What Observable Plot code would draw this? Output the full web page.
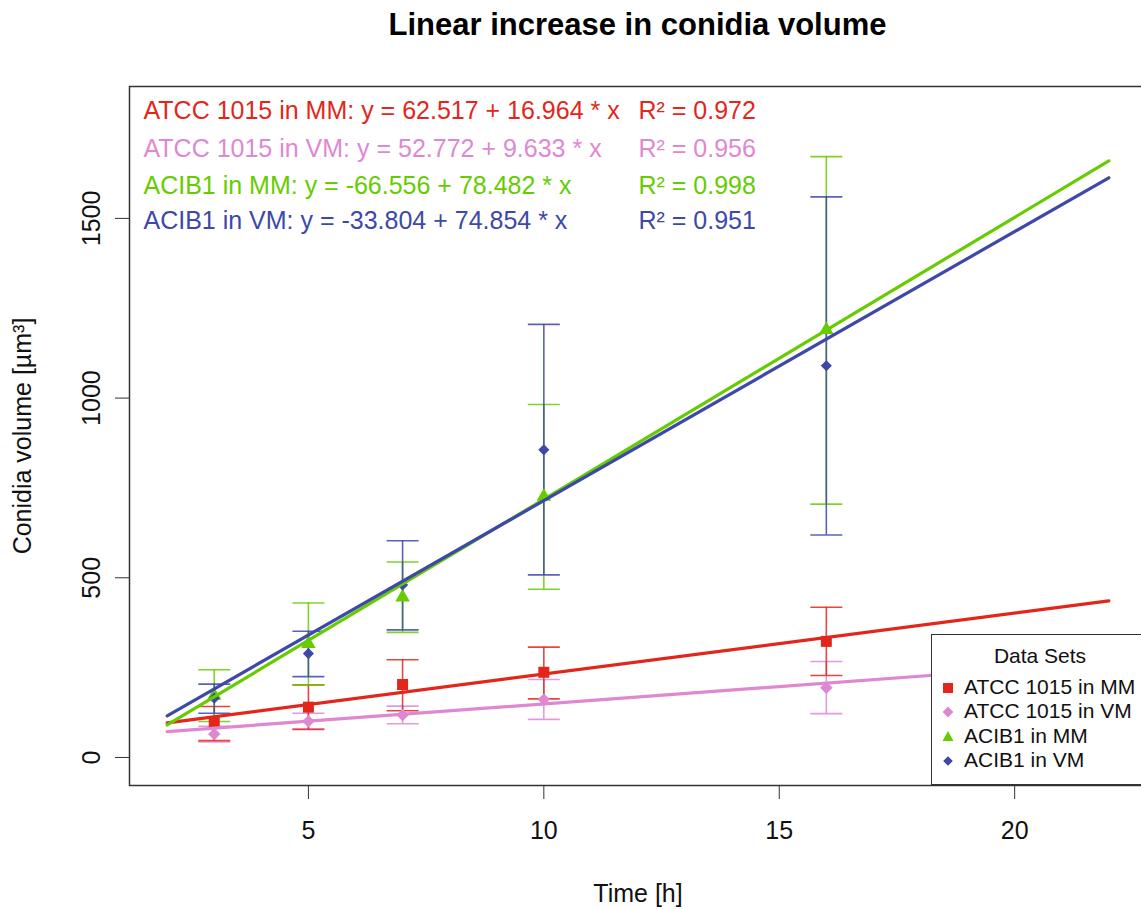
<!DOCTYPE html>
<html><head><meta charset="utf-8">
<script src="https://cdn.jsdelivr.net/npm/d3@7"></script>
<script src="https://cdn.jsdelivr.net/npm/@observablehq/plot@0.6"></script>
<style>
html,body{margin:0;padding:0;background:#fff;overflow:hidden;}
#wrap{position:relative;width:1141px;height:909px;overflow:hidden;font-family:"Liberation Sans",Arial,sans-serif;}
#title{position:absolute;left:129px;width:1017px;top:0;height:50px;line-height:50px;text-align:center;font-weight:bold;font-size:31px;color:#000;}
#chart{position:absolute;left:0;top:50px;}
#chart svg{max-width:none;overflow:hidden;}
#legend{position:absolute;left:931px;top:634px;width:240px;height:149px;border:1.5px solid #333;background:#fff;color:#111;font-size:21px;}
#legend .ttl{position:absolute;left:0;width:216px;top:9px;text-align:center;}
#legend .row{position:absolute;left:8px;height:24px;line-height:24px;white-space:nowrap;}
#legend .row svg{vertical-align:middle;margin-right:8px;}
</style></head>
<body><div id="wrap"><div id="title">Linear increase in conidia volume</div><div id="chart"></div><div id="legend"></div></div>
<script>
// ---- data ----
const times = [3, 5, 7, 10, 16];
const seriesNames = ["ATCC 1015 in MM", "ATCC 1015 in VM", "ACIB1 in MM", "ACIB1 in VM"];
const seriesColors = ["#E3261C", "#DF88D2", "#66CC00", "#3D48A8"];
const seriesSymbols = ["square", "diamond2", "triangle", "diamond2"];

const atccMM_mean = [98, 140, 203, 237, 323];
const atccMM_lo   = [47, 78, 130, 163, 228];
const atccMM_hi   = [142, 202, 272, 307, 418];

const atccVM_mean = [65, 101, 118, 161, 194];
const atccVM_lo   = [43, 80, 94, 106, 122];
const atccVM_hi   = [87, 123, 143, 217, 267];

const acibMM_mean = [172, 316, 446, 726, 1190];
const acibMM_lo   = [100, 202, 348, 468, 705];
const acibMM_hi   = [244, 430, 544, 982, 1672];

const acibVM_mean = [165, 289, 480, 856, 1090];
const acibVM_lo   = [123, 225, 355, 508, 619];
const acibVM_hi   = [204, 351, 603, 1205, 1560];

// regression lines (endpoints at the start and end of the fitted range)
const lineX = [2, 22];
const atccMM_line = [96.4, 435.7];
const atccVM_line = [72.0, 264.7];
const acibMM_line = [90.4, 1660.0];
const acibVM_line = [115.9, 1613.0];

const eqIntercept = ["62.517", "52.772", "-66.556", "-33.804"];
const eqSlope = ["16.964", "9.633", "78.482", "74.854"];
const eqR2 = ["0.972", "0.956", "0.998", "0.951"];

const xTicks = [5, 10, 15, 20];
const yTicks = [0, 500, 1000, 1500];
const xDomain = [1.2, 22.8];
const yDomain = [-78, 1867];

const xLabel = "Time [h]";
const yLabel = "Conidia volume [µm³]";
const legendTitle = "Data Sets";

// ---- build tables ----
const means = [atccMM_mean, atccVM_mean, acibMM_mean, acibVM_mean];
const los = [atccMM_lo, atccVM_lo, acibMM_lo, acibVM_lo];
const his = [atccMM_hi, atccVM_hi, acibMM_hi, acibVM_hi];
const lines = [atccMM_line, atccVM_line, acibMM_line, acibVM_line];

const pts = seriesNames.map((s, k) => times.map((t, i) => ({series: s, x: t, y: means[k][i], lo: los[k][i], hi: his[k][i]})));
const lns = seriesNames.map((s, k) => lineX.map((x, i) => ({series: s, x, y: lines[k][i]})));

const capSymbol = {draw(ctx, size) { const w = Math.sqrt(size) / 2; ctx.moveTo(-w, 0); ctx.lineTo(w, 0); }};
const capR = 32 / Math.sqrt(Math.PI);
const dotR = [6.2, 5.6, 5.4, 5.0];

// draw order: pink, red, green, blue
const order = [1, 0, 2, 3];
const marks = [];
for (const k of order) {
  const c = seriesColors[k];
  marks.push(Plot.ruleX(pts[k], {x: "x", y1: "lo", y2: "hi", stroke: c, strokeWidth: 1.6, strokeOpacity: 0.85}));
  marks.push(Plot.dot(pts[k], {x: "x", y: "lo", symbol: capSymbol, r: capR, stroke: c, fill: "none", strokeWidth: 1.6, strokeOpacity: 0.85}));
  marks.push(Plot.dot(pts[k], {x: "x", y: "hi", symbol: capSymbol, r: capR, stroke: c, fill: "none", strokeWidth: 1.6, strokeOpacity: 0.85}));
}
for (const k of order) {
  marks.push(Plot.dot(pts[k], {x: "x", y: "y", symbol: seriesSymbols[k], r: dotR[k], fill: seriesColors[k], stroke: "none"}));
}
for (const k of [1, 0, 2, 3]) {
  marks.push(Plot.line(lns[k], {x: "x", y: "y", stroke: seriesColors[k], strokeWidth: 3.2}));
}
// equations
const eqRowDy = [24, 62, 99, 134];
seriesNames.forEach((s, k) => {
  marks.push(Plot.text([`${s}: y = ${eqIntercept[k]} + ${eqSlope[k]} * x`], {frameAnchor: "top-left", dx: 14, dy: eqRowDy[k], textAnchor: "start", lineAnchor: "middle", fill: seriesColors[k], fontSize: 25}));
  marks.push(Plot.text([`R² = ${eqR2[k]}`], {frameAnchor: "top-left", dx: 509, dy: eqRowDy[k], textAnchor: "start", lineAnchor: "middle", fill: seriesColors[k], fontSize: 25}));
});

marks.push(Plot.frame({stroke: "#333", strokeWidth: 1.5}));
marks.push(Plot.axisX({ticks: xTicks, tickSize: 14, tickPadding: 22, fontSize: 25, label: null, stroke: "#333", tickFormat: d => String(d)}));
marks.push(Plot.axisY({ticks: yTicks, tickSize: 14, tickPadding: 16, tickRotate: -90, fontSize: 25, label: null, stroke: "#333", tickFormat: d => String(d)}));
marks.push(Plot.text([xLabel], {frameAnchor: "bottom", dy: 108, textAnchor: "middle", lineAnchor: "middle", fontSize: 25, fill: "#111"}));
marks.push(Plot.text([yLabel], {frameAnchor: "left", dx: -107, rotate: -90, textAnchor: "middle", lineAnchor: "middle", fontSize: 25, fill: "#111"}));

const chart = Plot.plot({
  width: 1141, height: 859,
  marginLeft: 129, marginRight: -5, marginTop: 36, marginBottom: 124,
  style: {fontFamily: "'Liberation Sans', Arial, sans-serif", fontSize: "25px", color: "#111", background: "#fff"},
  x: {domain: xDomain},
  y: {domain: yDomain},
  marks
});
document.getElementById("chart").appendChild(chart);

// ---- legend ----
const leg = document.getElementById("legend");
const t = document.createElement("div"); t.className = "ttl"; t.textContent = legendTitle; leg.appendChild(t);
const symPath = {
  square: "M-5,-5H5V5H-5Z",
  diamond2: "M0,-6L6,0L0,6L-6,0Z",
  triangle: "M0,-6L5.5,4L-5.5,4Z"
};
const legRowTop = [40, 64, 89, 113];
seriesNames.forEach((s, k) => {
  const r = document.createElement("div"); r.className = "row"; r.style.top = legRowTop[k] + "px";
  const scale = k === 3 ? 0.8 : (k === 1 ? 0.9 : 1);
  r.innerHTML = `<svg width="16" height="18" viewBox="-8 -9 16 18"><path d="${symPath[seriesSymbols[k]]}" fill="${seriesColors[k]}" transform="scale(${scale})"/></svg>${s}`;
  leg.appendChild(r);
});
</script>
</body></html>
